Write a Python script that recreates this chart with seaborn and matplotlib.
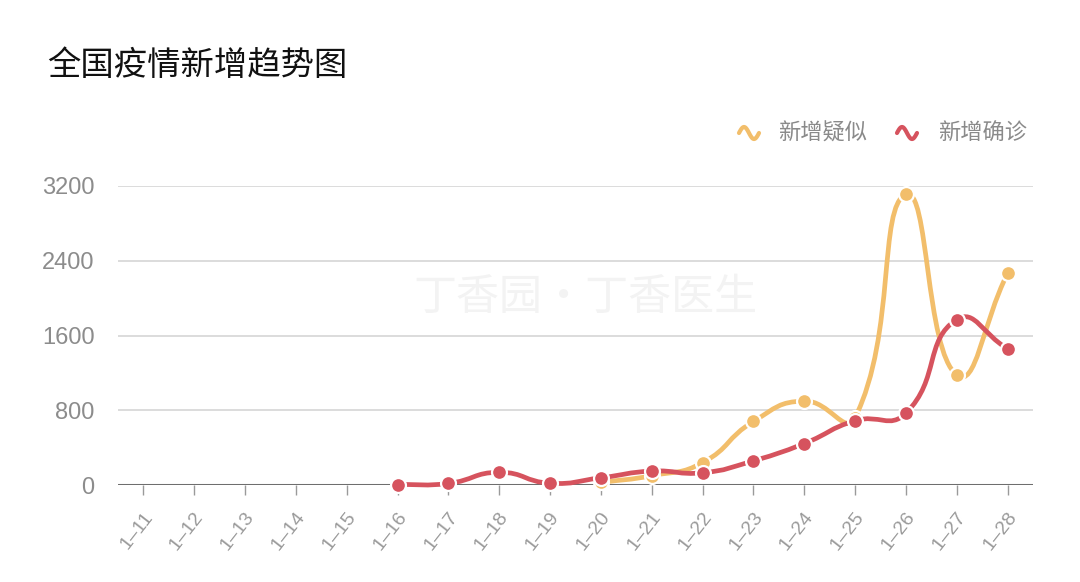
import numpy as np
import pandas as pd
import matplotlib
matplotlib.use("Agg")
import matplotlib.pyplot as plt
import seaborn as sns
from matplotlib.path import Path
from matplotlib.patches import PathPatch
from matplotlib.lines import Line2D
import matplotlib.transforms as mtrans

# ---------------- data ----------------
dates = ["1–11", "1–12", "1–13", "1–14", "1–15", "1–16", "1–17", "1–18", "1–19",
         "1–20", "1–21", "1–22", "1–23", "1–24", "1–25", "1–26", "1–27", "1–28"]
suspected = [None, None, None, None, None, None, None, None, None,
             27, 100, 239, 680, 899, 720, 3111, 1177, 2266]
confirmed = [None, None, None, None, None, 4, 17, 136, 19,
             77, 149, 131, 259, 444, 688, 769, 1771, 1459]
series_names = ["新增疑似", "新增确诊"]
yticks = [0, 800, 1600, 2400, 3200]
title = "全国疫情新增趋势图"
watermark = "丁香园·丁香医生"

c_sus = "#F2BE6B"
c_con = "#D6535E"

sns.set_theme(style="white")
plt.rcParams['font.family'] = ['Noto Sans CJK SC', 'DejaVu Sans']

W, H = 1080, 582
fig = plt.figure(figsize=(W / 100, H / 100), dpi=100)
ax = fig.add_axes([118 / W, 1 - 485 / H, (1033 - 118) / W, (485 - 186) / H])

n = len(dates)
ax.set_xlim(-0.5, n - 0.5)
ax.set_ylim(0, 3200)

def smooth_path(xs, ys, smooth=0.5):
    # ECharts-like bezier smoothing computed in display space
    pts = ax.transData.transform(np.column_stack([xs, ys]))
    verts = [pts[0]]
    codes = [Path.MOVETO]
    m = len(pts)
    cps = []
    for i in range(m):
        p = pts[i]
        prev = pts[i - 1] if i > 0 else p
        nxt = pts[i + 1] if i < m - 1 else p
        v = (nxt - prev) * smooth
        d0 = np.linalg.norm(p - prev)
        d1 = np.linalg.norm(p - nxt)
        s = d0 + d1
        if s > 0:
            d0 /= s
            d1 /= s
        cps.append((p - v * d0, p + v * d1))
    for i in range(1, m):
        verts += [cps[i - 1][1], cps[i][0], pts[i]]
        codes += [Path.CURVE4] * 3
    verts = ax.transData.inverted().transform(np.array(verts))
    return Path(verts, codes)

for name, vals, col, z in [(series_names[0], suspected, c_sus, 3), (series_names[1], confirmed, c_con, 5)]:
    xs = [i for i, v in enumerate(vals) if v is not None]
    ys = [v for v in vals if v is not None]
    path = smooth_path(xs, ys)
    patch = PathPatch(path, facecolor="none", edgecolor=col, lw=3.4, zorder=z, clip_on=False,
                      capstyle="round", joinstyle="round")
    ax.add_patch(patch)
    df = pd.DataFrame({"x": xs, "y": ys})
    sns.scatterplot(data=df, x="x", y="y", ax=ax, s=115, color=col, edgecolor="white",
                    linewidth=1.6, zorder=z + 1, clip_on=False, legend=False)

# grid and axes
for yt in yticks[1:]:
    ax.axhline(yt, color="#DCDCDC", lw=1.4, zorder=1)
ax.axhline(0, color="#6E6E6E", lw=2.2, zorder=2)
for s in ax.spines.values():
    s.set_visible(False)
ax.set_xlabel("")
ax.set_ylabel("")
ax.set_yticks(yticks)
ax.set_yticklabels([str(v) for v in yticks], fontsize=17, color="#8C8C8C",
                   family=["Liberation Sans", "DejaVu Sans"])
ax.tick_params(axis="y", length=0, pad=17)
ax.set_xticks(range(n))
ax.set_xticklabels(dates, rotation=52, ha="right", va="center", rotation_mode="anchor",
                   fontsize=14, color="#9A9A9A", family=["Liberation Sans", "DejaVu Sans"])
ax.tick_params(axis="x", length=7, width=1, color="#9A9A9A", direction="out", pad=14)
ax.xaxis.set_ticks_position("bottom")
offset = mtrans.ScaledTranslation(6 / 100, 0, fig.dpi_scale_trans)
for lab in ax.get_xticklabels():
    lab.set_transform(lab.get_transform() + offset)

# title
fig.text(47 / W, 1 - 65 / H, title, fontsize=24, color="#111111", ha="left", va="center",
         fontweight="medium")

# watermark
fig.text(585 / W, 1 - 298 / H, watermark, fontsize=31, color="#F3F3F3", ha="center",
         va="center", zorder=0)

# legend
def wave(x0, yc, col):
    t = np.linspace(0, 1, 40)
    xs = x0 + t * 20
    ys = yc - 6 * np.sin(t * 2 * np.pi)
    ln = Line2D(xs / W, 1 - ys / H, transform=fig.transFigure, color=col, lw=3,
                solid_capstyle="round")
    fig.add_artist(ln)

wave(739, 133, c_sus)
fig.text(778 / W, 1 - 133 / H, series_names[0], fontsize=16, color="#8A8A8A", ha="left", va="center")
wave(897, 133, c_con)
fig.text(938 / W, 1 - 133 / H, series_names[1], fontsize=16, color="#8A8A8A", ha="left", va="center")

fig.savefig("out.png", dpi=100, facecolor="white")
